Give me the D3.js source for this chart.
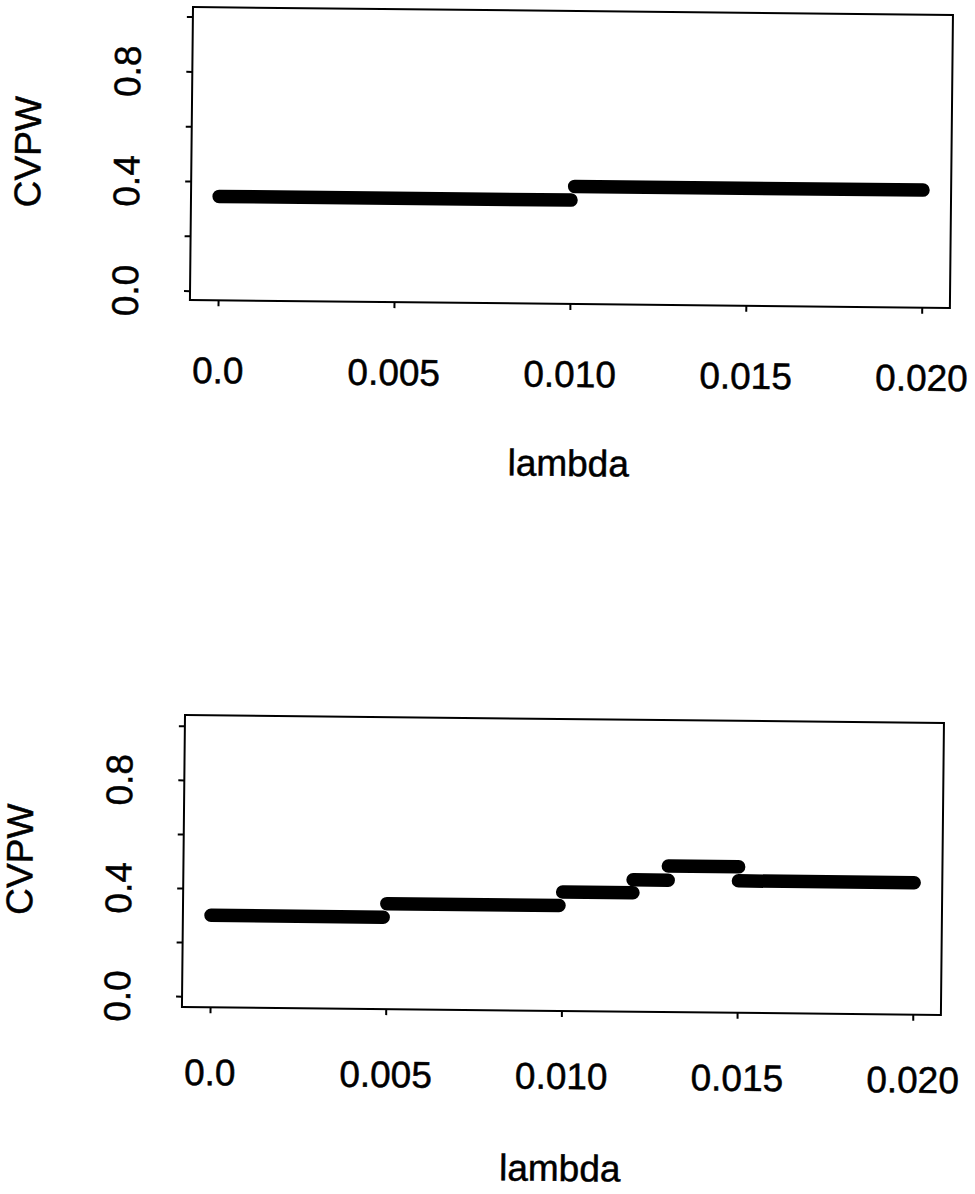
<!DOCTYPE html>
<html>
<head>
<meta charset="utf-8">
<script src="https://cdn.jsdelivr.net/npm/d3@7"></script>
<style>
  html, body { margin: 0; padding: 0; background: #fff; }
  svg { display: block; }
  text { font-family: "Liberation Sans", Arial, Helvetica, sans-serif; fill: #000;
         stroke: #000; stroke-width: 0.5px; }
</style>
</head>
<body>
<svg id="chart" width="975" height="1194"></svg>
<script>
// Axis ticks and labels
const lambdaTicks = [0, 0.005, 0.010, 0.015, 0.020];
const lambdaTickLabels = ["0.0", "0.005", "0.010", "0.015", "0.020"];
const cvpwTicks = [0, 0.2, 0.4, 0.6, 0.8, 1.0];
const cvpwTickLabels = ["0.0", "", "0.4", "", "0.8", ""];
const xTitle = "lambda";
const yTitle = "CVPW";

// Upper panel: CVPW is constant on each lambda interval
const upperStart = [0.0000, 0.0101];
const upperEnd   = [0.0100, 0.0200];
const upperCvpw  = [0.345, 0.395];

// Lower panel
const lowerStart = [0.0000, 0.0050, 0.0100, 0.0120, 0.0130, 0.0150];
const lowerEnd   = [0.0049, 0.0099, 0.0120, 0.0130, 0.0150, 0.0200];
const lowerCvpw  = [0.30, 0.35, 0.40, 0.448, 0.50, 0.448];

// Panel geometry (plot region origin, size, slight tilt of the page)
const panels = [
  { ox: 193, oy: 7,   w: 760, h: 293, ylo: -0.034, yhi: 1.035, tilt: 0.6,
    start: upperStart, end: upperEnd, cvpw: upperCvpw, labelY: 83, titleY: 172 },
  { ox: 185, oy: 715, w: 759, h: 292, ylo: -0.04,  yhi: 1.04,  tilt: 0.6,
    start: lowerStart, end: lowerEnd, cvpw: lowerCvpw, labelY: 78, titleY: 170 }
];

const FONT = 37;
const svg = d3.select("#chart");

panels.forEach(p => {
  const g = svg.append("g")
    .attr("transform", `translate(${p.ox},${p.oy}) rotate(${p.tilt})`);

  const x = d3.scaleLinear().domain([-0.0008, 0.0208]).range([0, p.w]);
  const y = d3.scaleLinear().domain([p.ylo, p.yhi]).range([p.h, 0]);

  // frame
  g.append("rect")
    .attr("x", 0).attr("y", 0).attr("width", p.w).attr("height", p.h)
    .attr("fill", "none").attr("stroke", "#000").attr("stroke-width", 2);

  // x axis
  const xa = g.append("g")
    .attr("transform", `translate(0,${p.h})`)
    .call(d3.axisBottom(x).tickValues(lambdaTicks).tickSize(6)
      .tickFormat((d, i) => lambdaTickLabels[i]));
  xa.select(".domain").remove();
  xa.selectAll(".tick line").attr("stroke", "#000").attr("stroke-width", 2);
  xa.selectAll(".tick text")
    .attr("y", p.labelY).attr("dy", null)
    .style("font-size", FONT + "px").attr("fill", "#000");

  // y axis
  const ya = g.append("g")
    .call(d3.axisLeft(y).tickValues(cvpwTicks).tickSize(6)
      .tickFormat((d, i) => cvpwTickLabels[i]));
  ya.select(".domain").remove();
  ya.selectAll(".tick line").attr("stroke", "#000").attr("stroke-width", 2);
  ya.selectAll(".tick text")
    .attr("transform", "rotate(-90)")
    .attr("x", 0).attr("y", -52).attr("dy", null)
    .attr("text-anchor", "middle")
    .style("font-size", FONT + "px").attr("fill", "#000");

  // axis titles
  g.append("text")
    .attr("x", p.w / 2).attr("y", p.h + p.titleY)
    .attr("text-anchor", "middle")
    .style("font-size", FONT + "px")
    .text(xTitle);
  g.append("text")
    .attr("transform", `translate(-151,${p.h / 2}) rotate(-90)`)
    .attr("text-anchor", "middle")
    .style("font-size", FONT + "px")
    .text(yTitle);

  // step segments drawn as heavy rounded strokes
  const segs = p.start.map((s, i) => ({ s, e: p.end[i], v: p.cvpw[i] }));
  g.append("g").selectAll("line").data(segs).join("line")
    .attr("x1", d => x(d.s)).attr("x2", d => x(d.e))
    .attr("y1", d => y(d.v)).attr("y2", d => y(d.v))
    .attr("stroke", "#000").attr("stroke-width", 13.5)
    .attr("stroke-linecap", "round");
});
</script>
</body>
</html>
